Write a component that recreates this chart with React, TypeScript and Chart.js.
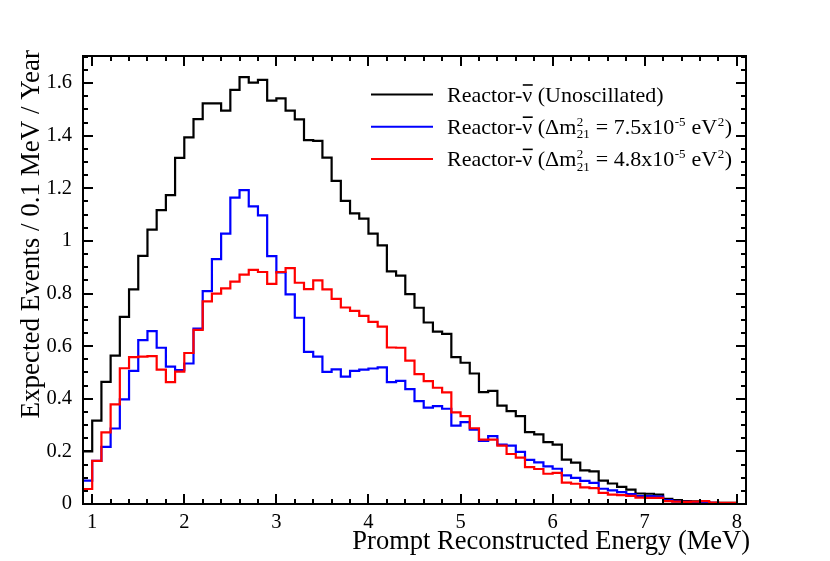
import React, { useEffect, useRef } from 'react';
import { Chart, registerables } from 'chart.js';

Chart.register(...registerables);

// ---- Data (bins of 0.1 MeV starting at 0.9 MeV) ----
const binStart = 0.9;
const binWidth = 0.1;

const unoscillated = [
  0.200, 0.317, 0.464, 0.564, 0.711, 0.816, 0.943, 1.043, 1.117, 1.174,
  1.316, 1.394, 1.463, 1.523, 1.523, 1.495, 1.574, 1.623, 1.602, 1.612,
  1.533, 1.542, 1.495, 1.462, 1.383, 1.380, 1.317, 1.228, 1.152, 1.105,
  1.085, 1.028, 0.983, 0.884, 0.868, 0.798, 0.746, 0.690, 0.655, 0.647,
  0.558, 0.537, 0.496, 0.425, 0.430, 0.374, 0.353, 0.334, 0.273, 0.265,
  0.235, 0.226, 0.169, 0.157, 0.128, 0.124, 0.089, 0.078, 0.065, 0.055,
  0.040, 0.039, 0.036, 0.020, 0.015, 0.011, 0.010, 0.007, 0.004, 0.004,
  0.004,
];

const dm75 = [
  0.089, 0.164, 0.217, 0.287, 0.398, 0.506, 0.623, 0.657, 0.594, 0.522,
  0.509, 0.534, 0.667, 0.809, 0.931, 1.028, 1.165, 1.193, 1.131, 1.097,
  0.942, 0.880, 0.797, 0.708, 0.578, 0.560, 0.502, 0.512, 0.484, 0.506,
  0.511, 0.515, 0.519, 0.463, 0.468, 0.437, 0.391, 0.366, 0.372, 0.362,
  0.298, 0.311, 0.283, 0.240, 0.258, 0.226, 0.222, 0.198, 0.168, 0.158,
  0.143, 0.134, 0.109, 0.099, 0.088, 0.080, 0.058, 0.052, 0.045, 0.038,
  0.030, 0.030, 0.028, 0.015, 0.010, 0.008, 0.007, 0.006, 0.004, 0.003,
  0.003,
];

const dm48 = [
  0.057, 0.164, 0.272, 0.379, 0.516, 0.558, 0.560, 0.562, 0.511, 0.463,
  0.503, 0.574, 0.662, 0.770, 0.800, 0.820, 0.845, 0.872, 0.890, 0.882,
  0.837, 0.882, 0.897, 0.841, 0.817, 0.850, 0.816, 0.780, 0.747, 0.734,
  0.715, 0.692, 0.674, 0.595, 0.594, 0.545, 0.494, 0.467, 0.442, 0.424,
  0.348, 0.334, 0.288, 0.245, 0.245, 0.222, 0.190, 0.176, 0.140, 0.133,
  0.115, 0.118, 0.081, 0.077, 0.063, 0.060, 0.042, 0.036, 0.034, 0.031,
  0.024, 0.023, 0.023, 0.011, 0.009, 0.008, 0.009, 0.011, 0.005, 0.004,
  0.004,
];

const xTickValues = [1, 2, 3, 4, 5, 6, 7, 8];
const xMin = 0.9;
const xMax = 8.1;
const yMin = 0;
const yMax = 1.703;
const xMinorStep = 0.2;
const yMinorStep = 0.05;
const yMajorStep = 0.2;

const xTitle = 'Prompt Reconstructed Energy (MeV)';
const yTitle = 'Expected Events / 0.1 MeV / Year';

const colors = ['#000000', '#0000ff', '#ff0000'];

type Part = { t?: string; bar?: string; sup?: string; sub?: string };
const legendRows: Part[][] = [
  [{ t: 'Reactor-' }, { bar: 'ν' }, { t: ' (Unoscillated)' }],
  [{ t: 'Reactor-' }, { bar: 'ν' }, { t: ' (Δm' }, { sup: '2', sub: '21' }, { t: ' = 7.5x10' }, { sup: '-5' }, { t: ' eV' }, { sup: '2' }, { t: ')' }],
  [{ t: 'Reactor-' }, { bar: 'ν' }, { t: ' (Δm' }, { sup: '2', sub: '21' }, { t: ' = 4.8x10' }, { sup: '-5' }, { t: ' eV' }, { sup: '2' }, { t: ')' }],
];

const FONT = '"Liberation Serif", "Times New Roman", serif';

function toSteps(vals: number[]) {
  const pts = vals.map((v, i) => ({ x: +(binStart + i * binWidth).toFixed(3), y: v }));
  pts.push({ x: +(binStart + vals.length * binWidth).toFixed(3), y: vals[vals.length - 1] });
  return pts;
}

function drawRich(ctx: CanvasRenderingContext2D, x: number, base: number, parts: Part[], size: number, small: number) {
  let cx = x;
  ctx.textAlign = 'left';
  ctx.textBaseline = 'alphabetic';
  for (const p of parts) {
    if (p.t !== undefined) {
      ctx.font = `${size}px ${FONT}`;
      ctx.fillText(p.t, cx, base);
      cx += ctx.measureText(p.t).width;
    } else if (p.bar !== undefined) {
      ctx.font = `${size}px ${FONT}`;
      ctx.fillText(p.bar, cx, base);
      const w = ctx.measureText(p.bar).width;
      ctx.save();
      ctx.lineWidth = 1.6;
      ctx.beginPath();
      ctx.moveTo(cx + 0.5, base - size * 0.76);
      ctx.lineTo(cx + w + 0.5, base - size * 0.76);
      ctx.stroke();
      ctx.restore();
      cx += w;
    } else {
      ctx.font = `${small}px ${FONT}`;
      let w = 0;
      if (p.sup !== undefined) {
        ctx.fillText(p.sup, cx + 0.5, base - size * 0.36);
        w = Math.max(w, ctx.measureText(p.sup).width);
      }
      if (p.sub !== undefined) {
        ctx.fillText(p.sub, cx + 0.5, base + size * 0.2);
        w = Math.max(w, ctx.measureText(p.sub).width);
      }
      cx += w + 1;
    }
  }
}

const framePlugin = {
  id: 'rootFrame',
  afterDatasetsDraw(chart: any) {
    const { ctx, chartArea: a, scales } = chart;
    const xs = scales.x;
    const ys = scales.y;
    ctx.save();
    ctx.strokeStyle = '#000';
    ctx.lineWidth = 2;
    ctx.strokeRect(a.left, a.top, a.right - a.left, a.bottom - a.top);
    ctx.lineWidth = 2;
    ctx.beginPath();
    const kx0 = Math.ceil(xMin / xMinorStep - 1e-6);
    const kx1 = Math.floor(xMax / xMinorStep + 1e-6);
    for (let k = kx0; k <= kx1; k++) {
      const v = k * xMinorStep;
      const major = Math.abs(v - Math.round(v)) < 1e-6;
      const len = major ? 10 : 5;
      const px = Math.round(xs.getPixelForValue(v));
      ctx.moveTo(px, a.bottom);
      ctx.lineTo(px, a.bottom - len);
      ctx.moveTo(px, a.top);
      ctx.lineTo(px, a.top + len);
    }
    const ky0 = Math.ceil(yMin / yMinorStep - 1e-6);
    const ky1 = Math.floor(yMax / yMinorStep + 1e-6);
    for (let k = ky0; k <= ky1; k++) {
      const v = k * yMinorStep;
      const major = Math.abs(v / yMajorStep - Math.round(v / yMajorStep)) < 1e-6;
      const len = major ? 10 : 5;
      const py = Math.round(ys.getPixelForValue(v));
      ctx.moveTo(a.left, py);
      ctx.lineTo(a.left + len, py);
      ctx.moveTo(a.right, py);
      ctx.lineTo(a.right - len, py);
    }
    ctx.stroke();
    ctx.restore();
  },
  afterDraw(chart: any) {
    const { ctx, chartArea: a } = chart;
    ctx.save();
    ctx.fillStyle = '#000';
    // Axis titles
    ctx.font = `26.5px ${FONT}`;
    ctx.textAlign = 'right';
    ctx.textBaseline = 'alphabetic';
    ctx.fillText(xTitle, a.right + 4, 549);
    ctx.font = `27px ${FONT}`;
    ctx.translate(39, a.top - 6);
    ctx.rotate(-Math.PI / 2);
    ctx.textAlign = 'right';
    ctx.fillText(yTitle, 0, 0);
    ctx.restore();

    // Legend
    ctx.save();
    const rowY = [94.5, 126.7, 158.9];
    legendRows.forEach((parts, i) => {
      ctx.strokeStyle = colors[i];
      ctx.lineWidth = 2;
      ctx.beginPath();
      ctx.moveTo(371, rowY[i]);
      ctx.lineTo(433, rowY[i]);
      ctx.stroke();
      ctx.fillStyle = '#000';
      ctx.strokeStyle = '#000';
      drawRich(ctx, 447, rowY[i] + 7.2, parts, 22, 13);
    });
    ctx.restore();
  },
};

export default function App() {
  const ref = useRef<HTMLCanvasElement | null>(null);
  useEffect(() => {
    document.body.style.margin = '0';
    const canvas = ref.current;
    if (!canvas) return;
    const chart = new Chart(canvas, {
      type: 'line',
      data: {
        datasets: [
          { label: 'Unoscillated', data: toSteps(unoscillated), borderColor: colors[0], stepped: 'before', order: 2 },
          { label: 'dm2 = 7.5e-5', data: toSteps(dm75), borderColor: colors[1], stepped: 'before', order: 1 },
          { label: 'dm2 = 4.8e-5', data: toSteps(dm48), borderColor: colors[2], stepped: 'before', order: 0 },
        ] as any,
      },
      options: {
        responsive: false,
        animation: false,
        devicePixelRatio: 1,
        elements: {
          point: { radius: 0 },
          line: { borderWidth: 2.2, tension: 0, fill: false, borderJoinStyle: 'miter' },
        },
        layout: { padding: { top: 56, right: 84, left: 0, bottom: 0 } },
        plugins: { legend: { display: false }, tooltip: { enabled: false }, title: { display: false } },
        scales: {
          x: {
            type: 'linear',
            min: xMin,
            max: xMax,
            grid: { display: false, drawTicks: false },
            border: { display: false },
            afterBuildTicks: (s: any) => { s.ticks = xTickValues.map((v) => ({ value: v })); },
            afterFit: (s: any) => { s.height = 57; },
            ticks: {
              font: { family: FONT, size: 20.5 },
              color: '#000',
              padding: 6,
              maxRotation: 0,
              autoSkip: false,
              callback: (v: any) => String(v),
            },
          },
          y: {
            type: 'linear',
            min: yMin,
            max: yMax,
            grid: { display: false, drawTicks: false },
            border: { display: false },
            afterBuildTicks: (s: any) => {
              const t = [];
              for (let k = 0; k * yMajorStep <= yMax + 1e-9; k++) t.push({ value: +(k * yMajorStep).toFixed(2) });
              s.ticks = t;
            },
            afterFit: (s: any) => { s.width = 83; },
            ticks: {
              font: { family: FONT, size: 20.5 },
              color: '#000',
              padding: 11,
              autoSkip: false,
              callback: (v: any) => String(Number(Number(v).toFixed(1))),
            },
          },
        },
      } as any,
      plugins: [framePlugin],
    });
    return () => chart.destroy();
  }, []);
  return (
    <div style={{ width: 830, height: 561, background: '#fff' }}>
      <canvas ref={ref} width={830} height={561} style={{ display: 'block' }} />
    </div>
  );
}
